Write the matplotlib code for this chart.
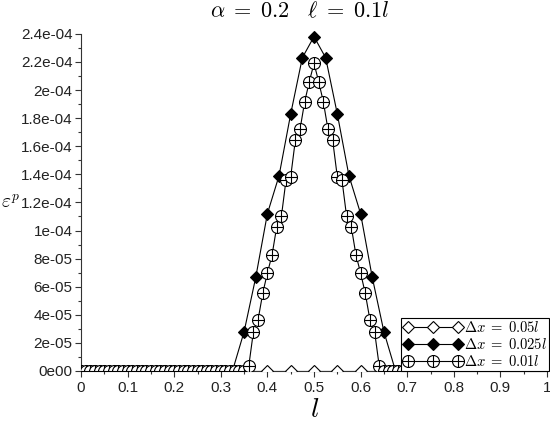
import numpy as np
import matplotlib
matplotlib.use("Agg")
import matplotlib.pyplot as plt
from matplotlib.path import Path

plt.rcParams['mathtext.fontset'] = 'cm'
plt.rcParams['font.family'] = ['Liberation Sans', 'DejaVu Sans']

# ---------------- data ----------------
series_labels = [r"$\Delta x\;=\;0.05l$", r"$\Delta x\;=\;0.025l$", r"$\Delta x\;=\;0.01l$"]

# Δx = 0.05l : all points are zero
dx05_step = 0.05

# Δx = 0.025l : nonzero part
dx025_step = 0.025
dx025_x = [0.35, 0.375, 0.40, 0.425, 0.45, 0.475, 0.50,
           0.525, 0.55, 0.575, 0.60, 0.625, 0.65]
dx025_y = [2.8e-05, 6.67e-05, 1.12e-04, 1.39e-04, 1.83e-04, 2.23e-04, 2.38e-04,
           2.23e-04, 1.83e-04, 1.39e-04, 1.12e-04, 6.67e-05, 2.8e-05]

# Δx = 0.01l : nonzero part
dx01_step = 0.01
dx01_x = [0.36, 0.37, 0.38, 0.39, 0.40, 0.41, 0.42, 0.43, 0.44, 0.45,
          0.46, 0.47, 0.48, 0.49, 0.50, 0.51, 0.52, 0.53, 0.54, 0.55,
          0.56, 0.57, 0.58, 0.59, 0.60, 0.61, 0.62, 0.63, 0.64]
dx01_y = [3.5e-06, 2.8e-05, 3.65e-05, 5.53e-05, 6.98e-05, 8.26e-05, 1.027e-04, 1.10e-04, 1.36e-04, 1.383e-04,
          1.644e-04, 1.72e-04, 1.917e-04, 2.06e-04, 2.19e-04, 2.06e-04, 1.917e-04, 1.72e-04, 1.644e-04, 1.383e-04,
          1.36e-04, 1.10e-04, 1.027e-04, 8.26e-05, 6.98e-05, 5.53e-05, 3.65e-05, 2.8e-05, 3.5e-06]

xticks = [0, 0.1, 0.2, 0.3, 0.4, 0.5, 0.6, 0.7, 0.8, 0.9, 1.0]
xtick_labels = ["0", "0.1", "0.2", "0.3", "0.4", "0.5", "0.6", "0.7", "0.8", "0.9", "1"]
yticks = [0, 2e-05, 4e-05, 6e-05, 8e-05, 1e-04, 1.2e-04, 1.4e-04, 1.6e-04,
          1.8e-04, 2e-04, 2.2e-04, 2.4e-04]
ytick_labels = ["0e00", "2e-05", "4e-05", "6e-05", "8e-05", "1e-04", "1.2e-04",
                "1.4e-04", "1.6e-04", "1.8e-04", "2e-04", "2.2e-04", "2.4e-04"]


def full_series(step, xs, ys):
    n = int(round(1.0 / step))
    grid = np.round(np.arange(n + 1) * step, 4)
    vals = np.zeros_like(grid)
    for xv, yv in zip(xs, ys):
        idx = int(round(xv / step))
        vals[idx] = yv
    return grid, vals


x05, y05 = full_series(dx05_step, [], [])
x025, y025 = full_series(dx025_step, dx025_x, dx025_y)
x01, y01 = full_series(dx01_step, dx01_x, dx01_y)

# circle-with-plus marker
oplus = Path.make_compound_path(Path.unit_circle(),
                                Path([[-1, 0], [1, 0]], [Path.MOVETO, Path.LINETO]),
                                Path([[0, -1], [0, 1]], [Path.MOVETO, Path.LINETO]))

fig = plt.figure(figsize=(5.5, 4.26), dpi=100)
ax = fig.add_axes([81 / 550, 1 - 371 / 426, (547 - 81) / 550, (371 - 26.8) / 426])

lw = 0.8
ax.plot(x05, y05, color='black', lw=lw, marker='D', ms=6.2, mfc='white', mec='black',
        mew=0.8, label=series_labels[0], zorder=3)
ax.plot(x025, y025, color='black', lw=lw, marker='D', ms=6.2, mfc='black', mec='black',
        mew=0.8, label=series_labels[1], zorder=4)
ax.plot(x01, y01, color='black', lw=lw, marker=oplus, ms=8.6, mfc='white', mec='black',
        mew=0.8, label=series_labels[2], zorder=5)

ax.set_xlim(0, 1)
ax.set_ylim(0, 2.45e-04)
ax.spines['top'].set_visible(False)
ax.spines['right'].set_visible(False)
ax.spines['left'].set_bounds(0, 2.4e-04)
ax.spines['left'].set_color('#333333')
ax.spines['bottom'].set_color('#333333')

ax.set_xticks(xticks)
ax.set_xticklabels(xtick_labels)
ax.set_yticks(yticks)
ax.set_yticklabels(ytick_labels)
ax.set_xticks(np.arange(0.05, 1.0, 0.1), minor=True)
ax.set_yticks(np.arange(1e-05, 2.4e-04, 2e-05), minor=True)
ax.tick_params(axis='both', which='major', direction='out', length=4, width=0.8,
               labelsize=11, colors='#333333', labelcolor='#222222', pad=2)
ax.tick_params(axis='both', which='minor', direction='out', length=2.5, width=0.8,
               colors='#333333')
ax.tick_params(axis='x', which='major', pad=3)

leg = ax.legend(loc='lower right', bbox_to_anchor=(1.005, 0.0), numpoints=3,
                fancybox=False, framealpha=1, edgecolor='black', fontsize=10.5,
                handlelength=4.0, handletextpad=0.15, borderpad=0.15,
                labelspacing=0.12, borderaxespad=0.0)
leg.get_frame().set_linewidth(0.8)
leg.set_zorder(10)

fig.text(300 / 550, 1 - 12 / 426, r"$\alpha\;=\;0.2\quad\ell\;=\;0.1l$", ha='center',
         va='center', fontsize=16)
fig.text(11 / 550, 1 - 203 / 426, r"$\varepsilon^p$", ha='center', va='center', fontsize=14)
fig.text(315 / 550, 1 - 410 / 426, r"$l$", ha='center', va='center', fontsize=20)

fig.savefig("out.png", dpi=100)
